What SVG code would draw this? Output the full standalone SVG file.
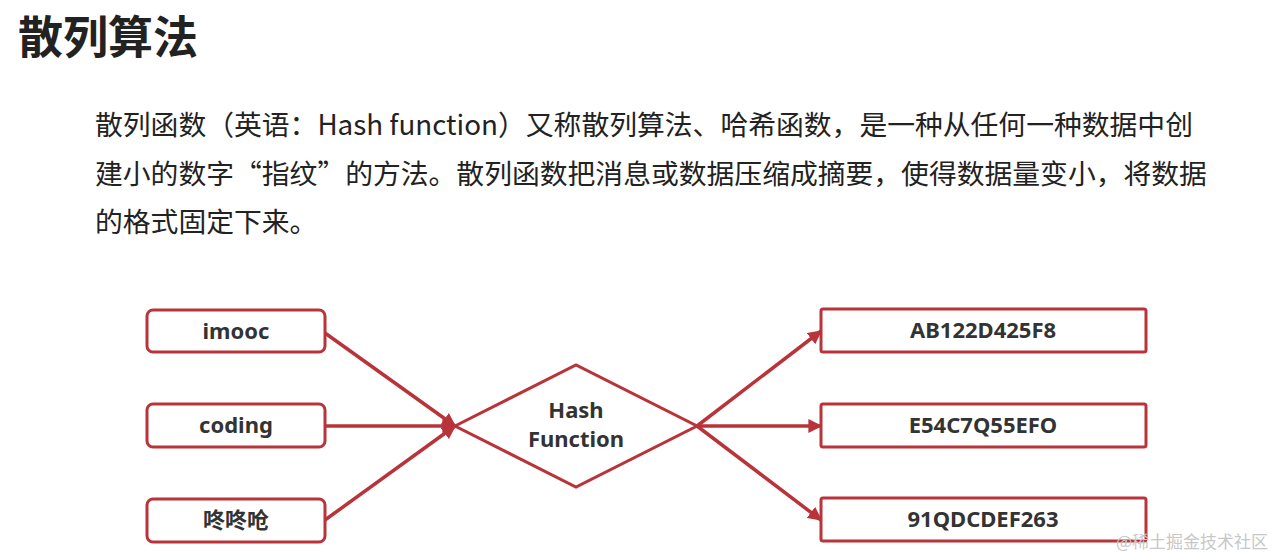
<svg xmlns="http://www.w3.org/2000/svg" width="1275" height="557" viewBox="0 0 1275 557">
<style>
.t{font-family:"Noto Sans CJK SC","Noto Sans",sans-serif;fill:#222}
.box{fill:#fff;stroke:#b8343a;stroke-width:3}
.lbl{font-family:"Noto Sans","Noto Sans CJK SC",sans-serif;font-weight:bold;font-size:22px;fill:#333;text-anchor:middle}
.c{stroke:#b8343a;stroke-width:3.5;fill:none;marker-end:url(#a)}
</style>
<defs><marker id="a" viewBox="0 0 10 10" refX="9" refY="5" markerWidth="4" markerHeight="4" orient="auto"><path d="M0,0L10,5L0,10z" fill="#b8343a"/></marker></defs>
<rect width="1275" height="557" fill="#fff"/>
<text class="t" x="18" y="54" font-size="45" font-weight="bold">散列算法</text>
<text class="t" font-size="27.8" x="95"><tspan y="135" x="95">散列函数（英语：Hash function）又称散列算法、哈希函数，是一种从任何一种数据中创</tspan><tspan y="184" x="95">建小的数字“指纹”的方法。散列函数把消息或数据压缩成摘要，使得数据量变小，将数据</tspan><tspan y="232" x="95">的格式固定下来。</tspan></text>
<g id="connectors">
<line class="c" x1="325" y1="333" x2="455" y2="426"/>
<line class="c" x1="325" y1="426" x2="455" y2="426"/>
<line class="c" x1="325" y1="520" x2="455" y2="426"/>
<line class="c" x1="697" y1="426" x2="821" y2="331"/>
<line class="c" x1="697" y1="426" x2="821" y2="426"/>
<line class="c" x1="697" y1="426" x2="821" y2="520"/>
</g>
<g id="n1"><rect class="box" x="147" y="310" width="178" height="42" rx="6"/><text class="lbl" x="236" y="339">imooc</text></g>
<g id="n2"><rect class="box" x="147" y="404" width="178" height="43" rx="6"/><text class="lbl" x="236" y="433">coding</text></g>
<g id="n3"><rect class="box" x="147" y="499" width="178" height="43" rx="6"/><text class="lbl" x="236" y="528">咚咚呛</text></g>
<g id="hash"><polygon points="455,426 576,365 697,426 576,487" fill="#fff" stroke="#b8343a" stroke-width="3"/><text class="lbl" x="576" y="418">Hash</text><text class="lbl" x="576" y="447">Function</text></g>
<g id="o1"><rect class="box" x="821" y="309" width="325" height="43" rx="2"/><text class="lbl" x="983" y="338">AB122D425F8</text></g>
<g id="o2"><rect class="box" x="821" y="404" width="325" height="43" rx="2"/><text class="lbl" x="983" y="433">E54C7Q55EFO</text></g>
<g id="o3"><rect class="box" x="821" y="498" width="325" height="43" rx="2"/><text class="lbl" x="983" y="527">91QDCDEF263</text></g>
<text x="1268" y="548" font-family="Noto Sans CJK SC,sans-serif" font-size="17" fill="#c8c8c8" text-anchor="end">@稀土掘金技术社区</text>
</svg>
